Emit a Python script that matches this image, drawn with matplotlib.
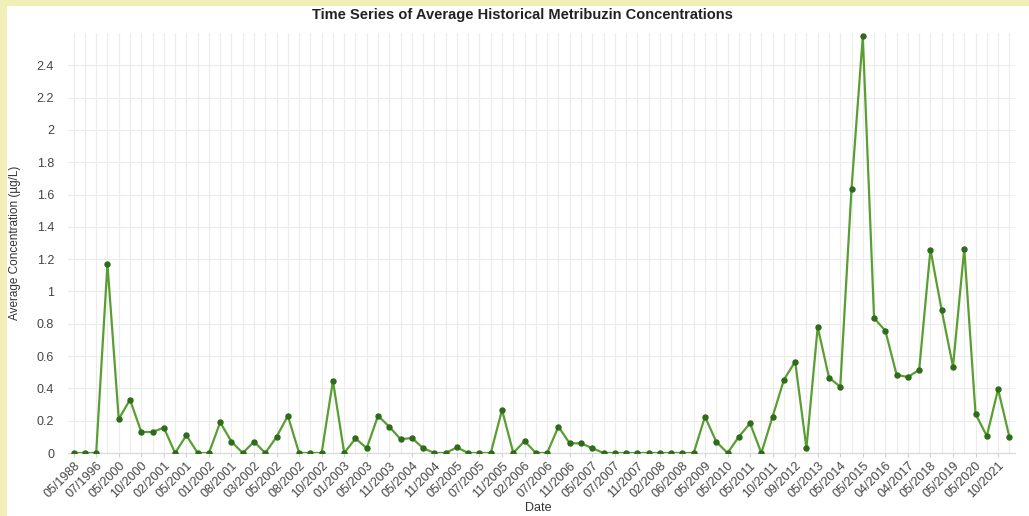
import matplotlib
matplotlib.use("Agg")
import matplotlib.pyplot as plt
from matplotlib.patches import Rectangle

# ---- data ----
tick_labels = ["05/1988", "07/1996", "05/2000", "10/2000", "02/2001", "05/2001",
               "01/2002", "08/2001", "03/2002", "05/2002", "08/2002", "10/2002",
               "01/2003", "05/2003", "11/2003", "05/2004", "11/2004", "05/2005",
               "07/2005", "11/2005", "02/2006", "07/2006", "11/2006", "05/2007",
               "07/2007", "11/2007", "02/2008", "06/2008", "05/2009", "05/2010",
               "05/2011", "10/2011", "09/2012", "05/2013", "05/2014", "05/2015",
               "04/2016", "04/2017", "05/2018", "05/2019", "05/2020", "10/2021"]

concentrations = [0, 0, 0, 1.17, 0.21, 0.33, 0.13, 0.13, 0.157, 0,
                  0.11, 0, 0, 0.19, 0.07, 0, 0.07, 0, 0.10, 0.23,
                  0, 0, 0, 0.447, 0, 0.09, 0.03, 0.23, 0.163, 0.085,
                  0.093, 0.03, 0, 0, 0.035, 0, 0, 0, 0.267, 0,
                  0.074, 0, 0, 0.163, 0.06, 0.06, 0.03, 0, 0, 0,
                  0, 0, 0, 0, 0, 0, 0.225, 0.07, 0, 0.10,
                  0.184, 0, 0.225, 0.453, 0.566, 0.03, 0.78, 0.467, 0.41, 1.637,
                  2.58, 0.835, 0.757, 0.484, 0.47, 0.515, 1.259, 0.883, 0.535, 1.265,
                  0.242, 0.105, 0.395, 0.10]

y_ticks = [0, 0.2, 0.4, 0.6, 0.8, 1, 1.2, 1.4, 1.6, 1.8, 2, 2.2, 2.4]
y_tick_labels = ["0", "0.2", "0.4", "0.6", "0.8", "1", "1.2", "1.4", "1.6",
                 "1.8", "2", "2.2", "2.4"]

plt.rcParams['font.family'] = ['Liberation Sans', 'DejaVu Sans']

W, H = 1029, 516
fig = plt.figure(figsize=(W / 100, H / 100), dpi=100)
fig.patch.set_facecolor("white")

# pale yellow frame at top and left
fig.patches.append(Rectangle((0, 1 - 6 / H), 1, 6 / H, transform=fig.transFigure,
                             facecolor="#f2eeb8", edgecolor="none", zorder=0))
fig.patches.append(Rectangle((0, 0), 7 / W, 1, transform=fig.transFigure,
                             facecolor="#f2eeb8", edgecolor="none", zorder=0))

left, right, top, bottom = 68, 1015, 33, 453
ax = fig.add_axes([left / W, 1 - bottom / H, (right - left) / W, (bottom - top) / H])

x = list(range(len(concentrations)))
ax.plot(x, concentrations, color="#5a9e32", linewidth=1.6, zorder=3,
        marker="o", markersize=3.6, markerfacecolor="#2e6b1b",
        markeredgecolor="#2e6b1b")

ax.set_xlim(-0.5, len(concentrations) - 0.5)
ax.set_ylim(0, 2.6)

ax.set_xticks(x, minor=True)
ax.set_xticks(x[::2])
ax.set_xticklabels(tick_labels, rotation=45, ha="right", rotation_mode="anchor",
                   fontsize=9, color="#444444")
ax.set_yticks(y_ticks)
ax.set_yticklabels(y_tick_labels, fontsize=9, color="#444444")

ax.grid(True, which="both", axis="x", color="#ececec", linewidth=0.8, zorder=0)
ax.grid(True, which="major", axis="y", color="#ececec", linewidth=0.8, zorder=0)

for s in ["top", "right", "left"]:
    ax.spines[s].set_visible(False)
ax.spines["bottom"].set_color("#d8d8d8")
ax.spines["bottom"].set_linewidth(0.8)

ax.tick_params(axis="x", which="major", length=3, color="#d0d0d0", pad=2)
ax.tick_params(axis="x", which="minor", length=0)
ax.tick_params(axis="y", length=0, pad=10)

ax.set_xlabel("Date", fontsize=9, color="#333333", va="bottom")
ax.xaxis.set_label_coords((538 - left) / (right - left), -(514 - bottom) / (bottom - top))
ax.set_ylabel("Average Concentration (\u00b5g/L)", fontsize=8.5, color="#333333",
              va="center")
ax.yaxis.set_label_coords(-(left - 15) / (right - left), 0.5)

fig.text(522 / W, 1 - 15 / H, "Time Series of Average Historical Metribuzin Concentrations",
         ha="center", va="center", fontsize=10.5, fontweight="bold", color="#222222")

fig.savefig("out.png", dpi=100, facecolor=fig.get_facecolor())
